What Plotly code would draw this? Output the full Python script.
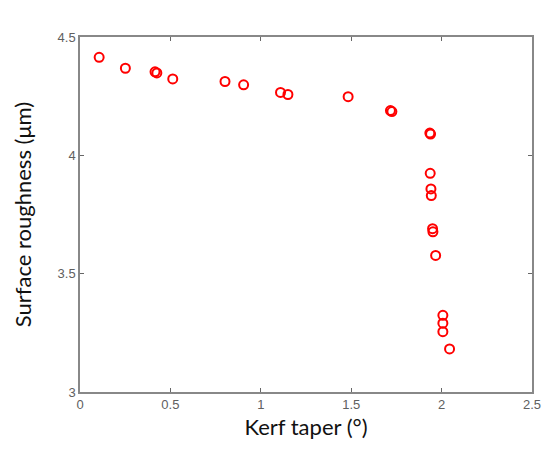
import plotly.graph_objects as go

# Kerf taper (deg) vs surface roughness (um)
kerf_taper = [0.106, 0.251, 0.415, 0.425, 0.513, 0.802, 0.905, 1.109, 1.150,
              1.483, 1.717, 1.725, 1.935, 1.939, 1.937, 1.941, 1.943,
              1.950, 1.952, 1.967, 2.007, 2.007, 2.007, 2.044]
roughness = [4.414, 4.368, 4.353, 4.348, 4.323, 4.312, 4.298, 4.266, 4.257,
             4.248, 4.189, 4.185, 4.094, 4.090, 3.924, 3.858, 3.830,
             3.690, 3.677, 3.577, 3.324, 3.291, 3.255, 3.182]

x_ticks = [0, 0.5, 1, 1.5, 2, 2.5]
x_labels = ["0", "0.5", "1", "1.5", "2", "2.5"]
y_ticks = [3, 3.5, 4, 4.5]
y_labels = ["3", "3.5", "4", "4.5"]

fig = go.Figure()
fig.add_trace(go.Scatter(
    x=kerf_taper, y=roughness, mode="markers",
    marker=dict(symbol="circle-open", size=9, color="#ff0000",
                line=dict(width=2, color="#ff0000")),
))

axis_style = dict(
    showgrid=False, zeroline=False, showline=True, mirror="ticks",
    linecolor="#888888", linewidth=1.5, ticks="inside", ticklen=4,
    tickcolor="#666666", tickwidth=1,
    tickfont=dict(family="Liberation Sans, Arial", size=13, color="#606060"),
)

fig.update_xaxes(range=[0, 2.5], tickvals=x_ticks, ticktext=x_labels,
                 title=dict(text="Kerf taper (°)", standoff=8,
                            font=dict(family="Lato, Open Sans", size=22, color="#111111")),
                 **axis_style)
fig.update_yaxes(range=[3, 4.5], tickvals=y_ticks, ticktext=y_labels,
                 title=dict(text="Surface roughness (μm)", standoff=20,
                            font=dict(family="Lato, Open Sans", size=22, color="#111111")),
                 **axis_style)

fig.update_layout(
    width=550, height=452,
    margin=dict(l=72, r=26, t=29, b=68),
    plot_bgcolor="white", paper_bgcolor="white",
    showlegend=False,
)

fig.write_html("out.html")
